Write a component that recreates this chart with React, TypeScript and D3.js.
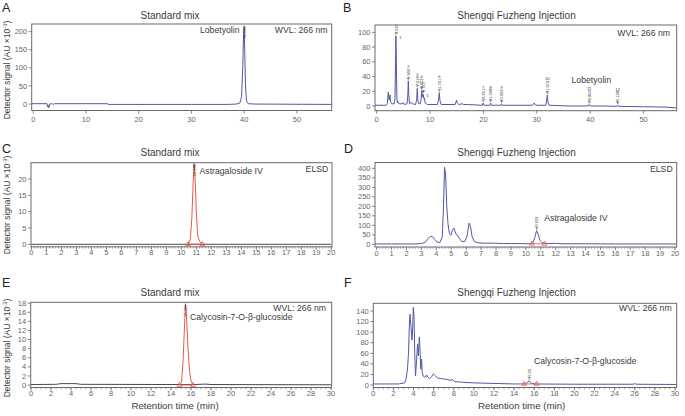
import React from 'react';
import * as d3 from 'd3';

type P = [number, number];

// ---------- DATA ----------
const traceA: P[] = [[-0.3,1],[2.6,1],[2.75,-8],[2.85,-3],[2.95,-10],[3.1,0],[3.6,1],[3.8,-1],[4,1],[14,1],[14.3,-1],[30,-1],[37,-1],[38.5,0],[39.2,3],[39.5,20],[39.75,110],[39.9,200],[40.0,212],[40.1,150],[40.25,50],[40.45,8],[40.8,1],[42,0],[56.6,-1]];

const traceB: P[] = [[-0.3,1],[1.8,1],[2.0,3],[2.1,12],[2.2,19],[2.3,10],[2.4,8],[2.5,15],[2.6,6],[2.8,3],[3.3,3],[3.45,10],[3.55,60],[3.62,95],[3.7,60],[3.8,10],[3.9,4],[4.0,6],[4.2,3],[4.8,3],[5.0,5],[5.2,2],[5.7,3],[5.85,15],[5.94,34],[6.03,15],[6.15,3],[6.5,5],[6.7,3],[7.3,2],[7.5,8],[7.62,24],[7.72,8],[7.9,3],[8.2,3],[8.35,10],[8.45,21],[8.55,12],[8.65,16],[8.75,15],[8.85,10],[8.95,11],[9.1,4],[9.5,2],[11.4,2],[11.6,8],[11.74,18],[11.85,8],[12.1,2],[14.7,2],[14.9,6],[15.0,8],[15.1,4],[15.4,2],[16.0,3],[16.3,2],[17,2],[19.8,1],[19.95,4],[20.1,1],[21.2,1],[21.35,4],[21.5,1],[23.3,1],[23.4,3],[23.55,1],[29.2,1],[29.5,4],[29.8,1],[31.7,1],[31.85,8],[31.97,15],[32.1,5],[32.3,1],[36,0],[39.6,0],[39.8,2],[40,0],[42.5,0],[45,-0.5],[45.15,1],[45.3,-0.5],[50,-1],[54,-1.5],[56.2,-2.5]];

const baseC: P[] = [[0,0],[20,0]];
const peakC: P[] = [[10.45,0],[10.6,1.5],[10.7,8],[10.78,18],[10.85,24.3],[10.92,20],[11.0,10],[11.08,3],[11.2,1],[11.4,0]];
const intC: P[] = [[10.45,0],[11.4,0]];

const traceD: P[] = [[-0.11,2],[1,2],[2.5,2],[3.0,4],[3.25,10],[3.45,30],[3.6,42],[3.75,40],[3.9,25],[4.05,12],[4.25,10],[4.4,40],[4.48,200],[4.55,405],[4.62,370],[4.7,200],[4.78,110],[4.88,55],[4.98,48],[5.08,75],[5.18,85],[5.27,65],[5.35,50],[5.45,45],[5.55,30],[5.7,15],[5.9,14],[6.05,40],[6.2,112],[6.3,90],[6.4,40],[6.55,15],[6.8,8],[7.2,6],[8,6],[8.5,4],[9.5,4],[10.2,3],[10.45,6],[10.6,35],[10.72,72],[10.82,55],[10.95,20],[11.1,8],[11.4,4],[12,5],[12.5,3],[14,3],[16,2],[18,2],[20.11,2]];
const intD: P[] = [[10.4,3],[11.25,3]];

const baseE: P[] = [[0,0.1],[2.5,0.15],[3,0.3],[4.5,0.3],[5,0.15],[14.8,0.1],[16.3,0.1],[17.5,0.2],[18,0.1],[30,0.05]];
const peakE: P[] = [[14.85,0],[15.05,0.5],[15.2,5],[15.35,13],[15.45,17.5],[15.55,15],[15.7,8],[15.85,3],[16,1],[16.2,0]];
const intE: P[] = [[14.85,0],[16.2,0]];

const traceF: P[] = [[0,2],[2.5,2],[3.1,4],[3.25,10],[3.4,30],[3.5,60],[3.58,110],[3.65,134],[3.75,110],[3.85,85],[3.92,110],[3.98,147],[4.05,130],[4.12,60],[4.2,17],[4.3,45],[4.4,77],[4.48,55],[4.58,91],[4.66,60],[4.72,30],[4.8,49],[4.86,25],[4.95,17],[5.1,15],[5.2,15],[5.3,19],[5.4,15],[5.6,12],[5.8,16],[5.97,21],[6.2,17],[6.4,13],[6.8,12],[7.2,11],[7.6,9],[7.9,10],[8.1,6],[8.5,6],[9,5],[10,4],[11,3.5],[12,3],[14,2],[15,2],[15.2,3],[15.5,8],[15.75,3],[16,2],[20,1.5],[25.8,1.5],[26,2.5],[26.2,1.5],[30.17,1]];
const intF: P[] = [[15.0,2],[16.25,2]];

const ticksAB = [0, 10, 20, 30, 40, 50];
const ticksCD = d3.range(0, 21);
const ticksEF = d3.range(0, 31, 2);
const yTicksA = [0, 50, 100, 150, 200];
const yTicksB = [0, 20, 40, 60, 80, 100];
const yTicksC = [0, 5, 10, 15, 20];
const yTicksD = [0, 50, 100, 150, 200, 250, 300, 350, 400];
const yTicksE = [0, 2, 4, 6, 8, 10, 12, 14, 16, 18];
const yTicksF = [0, 20, 40, 60, 80, 100, 120, 140];

type RT = { t: number; v: number; rt: string; num?: string; mode?: 'above' | 'below' | 'side' };
const rtA: RT[] = [{ t: 40.0, v: 212, rt: '40.003', mode: 'below' }];
const rtB: RT[] = [
  { t: 3.62, v: 95, rt: '3.627', num: '1', mode: 'side' },
  { t: 5.94, v: 34, rt: '5.940', num: '2' },
  { t: 7.62, v: 24, rt: '7.618', num: '3' },
  { t: 8.45, v: 21, rt: '8.452', num: '4' },
  { t: 8.75, v: 16, rt: '8.753', num: '5', mode: 'side' },
  { t: 11.74, v: 18, rt: '11.741', num: '6' },
  { t: 19.95, v: 4, rt: '19.951', num: '7' },
  { t: 21.35, v: 4, rt: '21.348', num: '8' },
  { t: 23.4, v: 3, rt: '23.402', num: '9' },
  { t: 31.97, v: 15, rt: '31.972', num: '10' },
  { t: 39.8, v: 2, rt: '39.804', num: '11' },
  { t: 45.15, v: 1, rt: '45.148', num: '12' },
];
const rtC: RT[] = [{ t: 10.85, v: 24.3, rt: '10.848', mode: 'below' }];
const rtD: RT[] = [{ t: 10.72, v: 72, rt: '10.693' }];
const rtE: RT[] = [{ t: 15.45, v: 17.5, rt: '15.453', mode: 'below' }];
const rtF: RT[] = [{ t: 15.5, v: 8, rt: '15.50' }];

// ---------- STYLE ----------
const FONT = "'Liberation Sans', Arial, Helvetica, sans-serif";
const BLUE = '#5357a9';
const RED = '#e8584c';
const DARK = '#4a4a4a';
const FRAME = '#6a6a6a';
const TXT = '#3c3c3c';
const TICKTXT = '#666';

type Note = { text: string; x: number; y: number; anchor: 'start' | 'end' };
type Cfg = {
  id: string; letter: string; lx: number; ly: number; title: string; tx: number; ty: number;
  fx: [number, number]; fy: [number, number]; xd: [number, number]; yd: [number, number];
  xt: number[]; yt: number[]; minor?: number; lblOff: number;
  blue?: P[]; dark?: P[]; red?: P[]; integ?: P[]; rts: RT[]; notes: Note[];
};

const panels: Cfg[] = [
  { id: 'A', letter: 'A', lx: 2, ly: 12, title: 'Standard mix', tx: 170, ty: 19,
    fx: [31.7, 331.7], fy: [24, 110.5], xd: [-0.3, 56.6], yd: [-17.8, 221], xt: ticksAB, yt: yTicksA, lblOff: 11,
    blue: traceA, rts: rtA,
    notes: [{ text: 'Lobetyolin', x: 239.5, y: 33.3, anchor: 'end' }, { text: 'WVL: 266 nm', x: 327.5, y: 33.3, anchor: 'end' }] },
  { id: 'B', letter: 'B', lx: 343, ly: 12, title: 'Shengqi Fuzheng Injection', tx: 516.5, ty: 19,
    fx: [375, 676.7], fy: [25, 110.7], xd: [-0.3, 56.2], yd: [-6.4, 110], xt: ticksAB, yt: yTicksB, lblOff: 11,
    blue: traceB, rts: rtB,
    notes: [{ text: 'Lobetyolin', x: 571.5, y: 82.5, anchor: 'start' }, { text: 'WVL: 266 nm', x: 670, y: 35.5, anchor: 'end' }] },
  { id: 'C', letter: 'C', lx: 2, ly: 153, title: 'Standard mix', tx: 170, ty: 156,
    fx: [31, 332], fy: [162.7, 246.8], xd: [-0.03, 20.05], yd: [-0.77, 25], xt: ticksCD, yt: yTicksC, minor: 0.2, lblOff: 8.5,
    dark: baseC, red: peakC, integ: intC, rts: rtC,
    notes: [{ text: 'Astragaloside IV', x: 199.5, y: 174.3, anchor: 'start' }, { text: 'ELSD', x: 328.3, y: 172.3, anchor: 'end' }] },
  { id: 'D', letter: 'D', lx: 344, ly: 153, title: 'Shengqi Fuzheng Injection', tx: 516.5, ty: 156,
    fx: [375, 676.7], fy: [162.5, 247], xd: [-0.11, 20.11], yd: [-14, 430.5], xt: ticksCD, yt: yTicksD, minor: 0.2, lblOff: 8.5,
    blue: traceD, integ: intD, rts: rtD,
    notes: [{ text: 'Astragaloside IV', x: 544.3, y: 221, anchor: 'start' }, { text: 'ELSD', x: 672.7, y: 171.7, anchor: 'end' }] },
  { id: 'E', letter: 'E', lx: 2, ly: 287, title: 'Standard mix', tx: 170, ty: 296,
    fx: [30.7, 331.7], fy: [302.3, 387.5], xd: [-0.03, 30.07], yd: [-0.55, 18.2], xt: ticksEF, yt: yTicksE, minor: 0.5, lblOff: 8.5,
    dark: baseE, red: peakE, integ: intE, rts: rtE,
    notes: [{ text: 'Calycosin-7-O-β-glucoside', x: 190, y: 320, anchor: 'start' }, { text: 'WVL: 266 nm', x: 326, y: 310.7, anchor: 'end' }] },
  { id: 'F', letter: 'F', lx: 344, ly: 287, title: 'Shengqi Fuzheng Injection', tx: 516.5, ty: 296,
    fx: [373.3, 676.7], fy: [303.3, 387.5], xd: [0, 30.17], yd: [-4.7, 154.6], xt: ticksEF, yt: yTicksF, minor: 0.5, lblOff: 8.5,
    blue: traceF, integ: intF, rts: rtF,
    notes: [{ text: 'Calycosin-7-O-β-glucoside', x: 534, y: 364.3, anchor: 'start' }, { text: 'WVL: 266 nm', x: 671.7, y: 311, anchor: 'end' }] },
];

function Panel({ c }: { c: Cfg }) {
  const x = d3.scaleLinear().domain(c.xd).range(c.fx);
  const y = d3.scaleLinear().domain(c.yd).range([c.fy[1], c.fy[0]]);
  const line = d3.line<P>().x(d => x(d[0])).y(d => y(d[1]));
  const tri = d3.symbol(d3.symbolTriangle, 10)();
  const minorTicks = c.minor ? d3.range(c.xd[0] < 0 ? 0 : c.xd[0], c.xd[1] + 1e-6, c.minor) : [];
  const clip = `clip-${c.id}`;
  return (
    <g>
      <defs>
        <clipPath id={clip}>
          <rect x={c.fx[0]} y={c.fy[0]} width={c.fx[1] - c.fx[0]} height={c.fy[1] - c.fy[0]} />
        </clipPath>
      </defs>
      <text x={c.lx} y={c.ly} fontSize={12.5} fill="#222">{c.letter}</text>
      <text x={c.tx} y={c.ty} fontSize={10} fill={TXT} textAnchor="middle">{c.title}</text>
      <g clipPath={`url(#${clip})`}>
        {c.dark && <path d={line(c.dark) || ''} fill="none" stroke={DARK} strokeWidth={1} />}
        {c.blue && <path d={line(c.blue) || ''} fill="none" stroke={BLUE} strokeWidth={1} strokeLinejoin="round" />}
        {c.red && <path d={line(c.red) || ''} fill="none" stroke={RED} strokeWidth={1} strokeLinejoin="round" />}
        {c.integ && <path d={line(c.integ) || ''} fill="none" stroke={RED} strokeWidth={0.9} />}
      </g>
      {c.integ && c.integ.map((p, i) => (
        <path key={i} d={tri || ''} transform={`translate(${x(p[0])},${y(p[1])})`} fill="none" stroke={RED} strokeWidth={0.8} />
      ))}
      {c.rts.map((r, i) => {
        const px = x(r.t), py = y(r.v);
        const below = r.mode === 'below';
        const len = r.rt.length * 2.0;
        return (
          <g key={i}>
            <line x1={px} x2={px} y1={below ? py - 2 : py - 1} y2={below ? py + 3 : py - 4} stroke="#333" strokeWidth={0.6} />
            <text transform={`translate(${px + 1.6},${below ? py - 1 : py - 2}) rotate(-90)`} fontSize={4} fill="#333"
              textAnchor={below ? 'end' : 'start'}>{r.rt}</text>
            {r.num && (r.mode === 'side'
              ? <text x={px + 3.2} y={py + 3} fontSize={4} fill="#333">{r.num}</text>
              : <text x={px} y={py - 2.5 - len} fontSize={4} fill="#333" textAnchor="middle">{r.num}</text>)}
          </g>
        );
      })}
      {c.notes.map((n, i) => (
        <text key={i} x={n.x} y={n.y} fontSize={8.7} fill={TXT} textAnchor={n.anchor}>{n.text}</text>
      ))}
      <rect x={c.fx[0]} y={c.fy[0]} width={c.fx[1] - c.fx[0]} height={c.fy[1] - c.fy[0]} fill="none" stroke={FRAME} strokeWidth={1} />
      {c.yt.map(v => (
        <g key={'y' + v}>
          <line x1={c.fx[0] - 3} x2={c.fx[0]} y1={y(v)} y2={y(v)} stroke={FRAME} strokeWidth={0.8} />
          <text x={c.fx[0] - 4.5} y={y(v)} dy="0.35em" fontSize={7.5} fill={TICKTXT} textAnchor="end">{v}</text>
        </g>
      ))}
      {minorTicks.map((v, i) => (
        <line key={'m' + i} x1={x(v)} x2={x(v)} y1={c.fy[1]} y2={c.fy[1] + 1.8} stroke={FRAME} strokeWidth={0.6} />
      ))}
      {c.xt.map(v => (
        <g key={'x' + v}>
          <line x1={x(v)} x2={x(v)} y1={c.fy[1]} y2={c.fy[1] + 3} stroke={FRAME} strokeWidth={0.8} />
          <text x={x(v)} y={c.fy[1] + c.lblOff} fontSize={7.5} fill={TICKTXT} textAnchor="middle">{v}</text>
        </g>
      ))}
    </g>
  );
}

function YLabel({ cx, cy }: { cx: number; cy: number }) {
  return (
    <text transform={`translate(${cx},${cy}) rotate(-90)`} fontSize={8.5} fill={TXT} textAnchor="middle">
      Detector signal (AU ×10<tspan dy={-3} fontSize={6}>-3</tspan><tspan dy={3}>)</tspan>
    </text>
  );
}

export default function App() {
  return (
    <svg width={685} height={416} style={{ position: 'absolute', left: 0, top: 0, background: '#fff' }}
      fontFamily={FONT}>
      <rect width={685} height={416} fill="#fff" />
      {panels.map(p => <Panel key={p.id} c={p} />)}
      <YLabel cx={10} cy={70} />
      <YLabel cx={10} cy={205} />
      <YLabel cx={10} cy={348} />
      <text x={175} y={409.3} fontSize={9.7} fill={TXT} textAnchor="middle">Retention time (min)</text>
      <text x={521.7} y={409.3} fontSize={9.7} fill={TXT} textAnchor="middle">Retention time (min)</text>
    </svg>
  );
}
